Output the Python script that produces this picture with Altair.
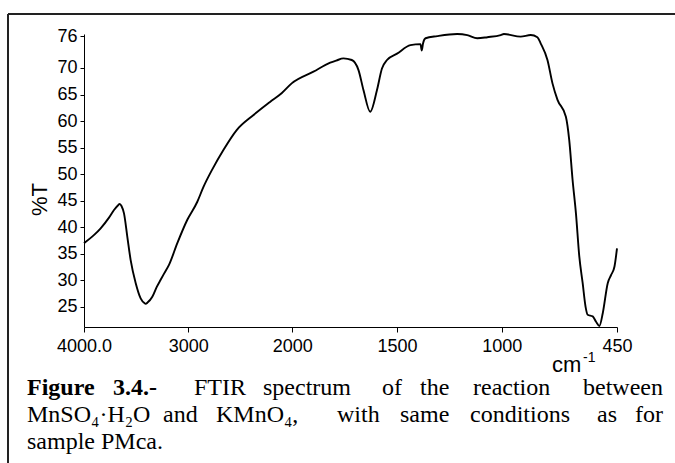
import altair as alt
import pandas as pd

# ---------------- data ----------------
wavenumber = [4000, 3900, 3840, 3760, 3712, 3670, 3657, 3640, 3616, 3584, 3552, 3504,
              3456, 3420, 3408, 3390, 3344, 3300, 3264, 3230, 3184, 3104, 3008, 2912,
              2855, 2768, 2663, 2534, 2375, 2214, 2100, 2006, 1899, 1819, 1790, 1756,
              1716, 1684, 1660, 1628, 1596, 1572, 1548, 1500, 1436, 1388, 1382, 1376,
              1364, 1308, 1213, 1165, 1117, 1069, 1005, 990, 910, 862, 830, 814, 782,
              758, 734, 694, 678, 662, 646, 630, 614, 600, 590, 566, 550, 534, 518,
              494, 478, 462, 450]
transmittance = [37.0, 38.6, 39.8, 41.8, 43.25, 44.2, 44.4, 44.0, 42.6, 38.2, 33.8, 29.5,
                 26.6, 25.7, 25.56, 25.8, 26.9, 28.8, 30.1, 31.3, 32.9, 37.0, 41.4, 44.8,
                 47.5, 50.9, 54.5, 58.3, 61.1, 63.6, 65.3, 67.1, 69.3, 71.0, 71.4, 71.8,
                 71.5, 69.6, 65.8, 61.75, 65.8, 69.9, 71.5, 72.7, 74.3, 74.5, 73.3, 74.6,
                 75.6, 76.0, 76.4, 76.2, 75.6, 75.8, 76.2, 76.4, 75.9, 76.2, 75.8, 74.6, 71.5,
                 67.1, 64.0, 60.8, 56.4, 48.9, 42.6, 34.5, 29.5, 25.0, 23.5, 23.2, 22.2, 21.4, 23.8,
                 29.5, 31.0, 32.6, 36.0]
x_ticks = [4000, 3000, 2000, 1500, 1000, 450]
y_ticks = [25, 30, 35, 40, 45, 50, 55, 60, 65, 70, 76]

caption_line1 = ["Figure", "3.4.-", "FTIR", "spectrum", "of", "the", "reaction", "between"]
caption_line2 = ["MnSO\u2084\u00b7H\u2082O", "and", "KMnO\u2084,", "with", "same", "conditions", "as", "for"]
caption_line3 = ["sample PMca."]

df = pd.DataFrame({"wn": wavenumber, "T": transmittance})

# ---------------- layout ----------------
OX, OY = 84, 34          # plot origin in page pixels
W, H = 533, 293
one = alt.Data(values=[{"a": 1}])

x_scale = alt.Scale(domain=[4000, 2000, 450], range=[0, 208.3, W], nice=False, zero=False)
y_scale = alt.Scale(domain=[21.2, 76.4], nice=False, zero=False)

line = alt.Chart(df).mark_line(color="black", strokeWidth=1.9, interpolate="monotone").encode(
    x=alt.X("wn:Q", scale=x_scale,
            axis=alt.Axis(values=x_ticks, format="d", title=None,
                          labelExpr="datum.value == 4000 ? '4000.0' : datum.label",
                          tickSize=5, labelPadding=5, labelFlush=False, labelOverlap=False,
                          grid=False, domainColor="black", tickColor="black",
                          labelColor="black", labelFont="Liberation Sans", labelFontSize=18)),
    y=alt.Y("T:Q", scale=y_scale,
            axis=alt.Axis(values=y_ticks, title="%T", tickSize=4, labelPadding=3,
                          titleX=39 - OX, titleY=199 - OY, titleAngle=270,
                          titleAlign="center", titleBaseline="middle",
                          titleFontSize=22, titleFontWeight="normal", titleColor="black",
                          titleFont="Liberation Sans", labelOverlap=False, labelFlush=False,
                          grid=False, domainColor="black", tickColor="black",
                          labelColor="black", labelFont="Liberation Sans", labelFontSize=18)),
)

def px(x):
    return x - OX

def py(y):
    return y - OY

layers = [line]

# frame around the figure (top and left edges visible)
layers.append(alt.Chart(one).mark_rule(color="#222", strokeWidth=2).encode(
    x=alt.value(px(8)), x2=alt.value(px(676)), y=alt.value(py(14))))
layers.append(alt.Chart(one).mark_rule(color="#222", strokeWidth=2).encode(
    x=alt.value(px(8)), y=alt.value(py(14)), y2=alt.value(py(464))))

# cm-1 unit label
layers.append(alt.Chart(one).mark_text(text="cm", font="Liberation Sans", fontSize=22,
                                       align="left", baseline="alphabetic", color="black").encode(
    x=alt.value(px(552)), y=alt.value(py(372))))
layers.append(alt.Chart(one).mark_text(text="-1", font="Liberation Sans", fontSize=14,
                                       align="left", baseline="alphabetic", color="black").encode(
    x=alt.value(px(583)), y=alt.value(py(362))))

# caption, justified word by word
cap_font = "Liberation Serif"
cap_size = 24
starts1 = [27, 113, 194, 263, 382, 420, 473, 663]
starts2 = [27, 163, 216, 337, 400, 470, 597, 663]
for words, starts, base, bold_n in [(caption_line1, starts1, 395, 2), (caption_line2, starts2, 422, 0)]:
    n = len(words)
    for i, (w, s) in enumerate(zip(words, starts)):
        layers.append(alt.Chart(one).mark_text(
            text=w, font=cap_font, fontSize=cap_size,
            fontWeight="bold" if i < bold_n else "normal",
            align="right" if i == n - 1 else "left",
            baseline="alphabetic", color="black").encode(
            x=alt.value(px(s)), y=alt.value(py(base))))
layers.append(alt.Chart(one).mark_text(
    text=caption_line3[0], font=cap_font, fontSize=cap_size, align="left",
    baseline="alphabetic", color="black").encode(x=alt.value(px(27)), y=alt.value(py(449))))

chart = alt.layer(*layers).properties(
    width=W, height=H,
    background="white",
    autosize=alt.AutoSizeParams(type="none"),
    padding={"left": OX, "top": OY, "right": 675 - OX - W, "bottom": 463 - OY - H},
).configure_view(stroke=None)

chart.save("out.html", embed_options={"renderer": "svg", "actions": False})
